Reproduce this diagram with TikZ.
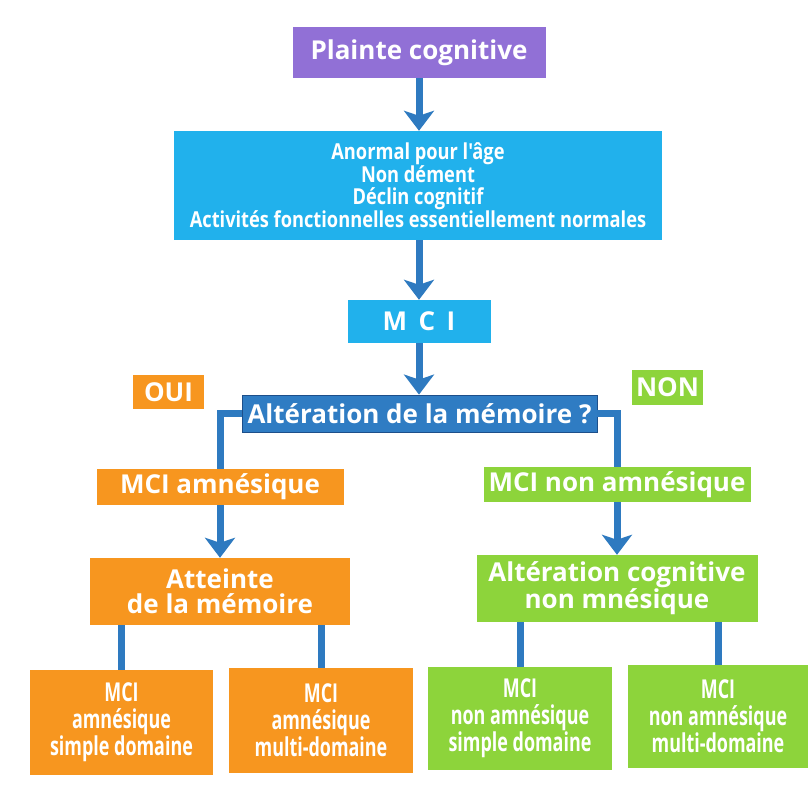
\documentclass[tikz,border=0pt]{standalone}
\usepackage{fontspec}
\usetikzlibrary{arrows.meta}
\newfontfamily\wfont{Open Sans}
\newfontfamily\cfont{Open Sans}[FakeStretch=0.83]
\newfontfamily\ccfont{Open Sans}[FakeStretch=0.69]
\definecolor{purp}{HTML}{9170D6}
\definecolor{cyanb}{HTML}{21B1EC}
\definecolor{darkb}{HTML}{2F7CC3}
\definecolor{darkedge}{HTML}{1D4F8A}
\definecolor{orng}{HTML}{F7961F}
\definecolor{grn}{HTML}{8DD43B}
\definecolor{arrb}{HTML}{2E7AC0}
\tikzset{
  box/.style={inner sep=0pt, align=center, text=white, font=\wfont\bfseries\fontsize{26}{25}\selectfont},
  condbox/.style={box, font=\cfont\bfseries\fontsize{22}{22}\selectfont},
  smallbox/.style={box, font=\ccfont\bfseries\fontsize{26}{27}\selectfont},
  arr/.style={draw=arrb, line width=7pt, -{Stealth[length=20pt,width=30pt,inset=5pt]}},
  conn/.style={draw=arrb, line width=7pt}
}
\begin{document}
\begin{tikzpicture}[x=1pt,y=-1pt]
\fill[white] (0,0) rectangle (812,792);
\useasboundingbox (0,0) rectangle (812,792);

\node[box, fill=purp, minimum width=253pt, minimum height=51pt] (plainte) at (419,52.5) {Plainte cognitive};
\node[condbox, fill=cyanb, minimum width=488pt, minimum height=109pt] (anormal) at (418,185.5)
  {Anormal pour l'âge\\Non dément\\Déclin cognitif\\Activités fonctionnelles essentiellement normales};
\node[box, fill=cyanb, minimum width=143pt, minimum height=43pt] (mci) at (419,321.5) {\addfontfeature{LetterSpace=18}M C I};
\node[box, fill=darkb, draw=darkedge, line width=0.8pt, minimum width=355pt, minimum height=37pt] (alter) at (419.5,413.5) {Altération de la mémoire ?};
\node[box, fill=orng, minimum width=71pt, minimum height=34pt] (oui) at (168.5,392) {OUI};
\node[box, fill=grn, minimum width=71pt, minimum height=35pt] (non) at (667.5,387.5) {NON};
\node[box, fill=orng, minimum width=247pt, minimum height=36pt] (amn) at (220,487) {MCI amnésique};
\node[box, fill=grn, minimum width=267pt, minimum height=35pt] (nonamn) at (617,484.5) {MCI non amnésique};
\node[box, fill=orng, minimum width=260pt, minimum height=67pt] (atteinte) at (220,591.5) {Atteinte\\de la mémoire};
\node[box, fill=grn, minimum width=281pt, minimum height=67pt] (altcog) at (617,588.5) {Altération cognitive\\non mnésique};
\node[smallbox, fill=orng, minimum width=183pt, minimum height=105pt] (b1) at (121.5,722.5) {MCI\\amnésique\\simple domaine};
\node[smallbox, fill=orng, minimum width=184pt, minimum height=105pt] (b2) at (321,720.5) {MCI\\amnésique\\multi-domaine};
\node[smallbox, fill=grn, minimum width=184pt, minimum height=103pt] (b3) at (520,718.5) {MCI\\non amnésique\\simple domaine};
\node[smallbox, fill=grn, minimum width=180pt, minimum height=103pt] (b4) at (718,716.5) {MCI\\non amnésique\\multi-domaine};

\draw[arr] (plainte.south) -- (plainte.south |- anormal.north);
\draw[arr] (mci.north |- anormal.south) -- (mci.north);
\draw[arr] (mci.south) -- (mci.south |- alter.north);
\draw[conn] (alter.west) -| (amn.north);
\draw[conn] (alter.east) -| (nonamn.north);
\draw[arr] (amn.south) -- (atteinte.north);
\draw[arr] (nonamn.south) -- (altcog.north);
\draw[conn] (b1.north |- atteinte.south) -- (b1.north);
\draw[conn] (b2.north |- atteinte.south) -- (b2.north);
\draw[conn] (b3.north |- altcog.south) -- (b3.north);
\draw[conn] (b4.north |- altcog.south) -- (b4.north);
\end{tikzpicture}
\end{document}
